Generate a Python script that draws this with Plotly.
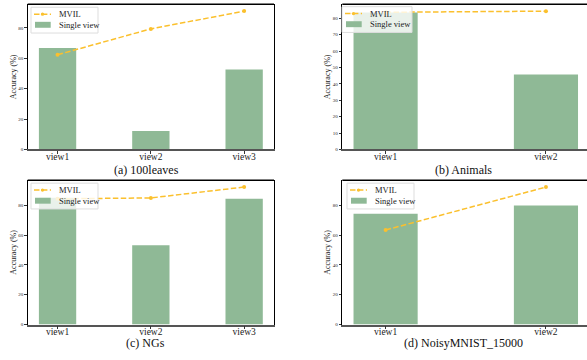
import plotly.graph_objects as go

FONT = "Liberation Serif"
BAR_COLOR = "#8FB996"
LINE_COLOR = "#FBC02D"

# ---- data ----
views_a = ["view1", "view2", "view3"]
single_a = [66.7, 12.2, 52.6]
mvil_a = [62.3, 79.3, 91.0]

views_b = ["view1", "view2"]
single_b = [83.5, 45.7]
mvil_b = [83.7, 84.4]

views_c = ["view1", "view2", "view3"]
single_c = [85.1, 53.1, 84.4]
mvil_c = [84.3, 84.9, 92.2]

views_d = ["view1", "view2"]
single_d = [74.3, 79.8]
mvil_d = [63.4, 92.2]

titles = ["(a) 100leaves", "(b) Animals", "(c) NGs", "(d) NoisyMNIST_15000"]
legend_names = ["MVIL", "Single view"]

W, H = 587, 360
DASH = "5.5px,2.4px"
fig = go.Figure()

panels = [
    dict(views=views_a, single=single_a, mvil=mvil_a, px=(27.7, 274.0), py=(4.3, 150.7),
         xr=[-0.32, 2.32], yr=[0, 95.5], dt=20, right=True, leg=(31, 7.3), lw=67, tx=146.7, ty=170.7),
    dict(views=views_b, single=single_b, mvil=mvil_b, px=(342.3, 587.0), py=(4.3, 150.7),
         xr=[-0.27, 1.256], yr=[0, 88.6], dt=10, right=False, leg=(342, 6.7), lw=70, tx=463.7, ty=170.7),
    dict(views=views_c, single=single_c, mvil=mvil_c, px=(27.7, 274.0), py=(181.7, 327.3),
         xr=[-0.32, 2.32], yr=[0, 96.8], dt=20, right=True, leg=(31, 184.7), lw=67, tx=145.7, ty=345.7),
    dict(views=views_d, single=single_d, mvil=mvil_d, px=(342.3, 587.0), py=(181.7, 327.3),
         xr=[-0.27, 1.256], yr=[0, 96.8], dt=20, right=False, leg=(347, 184.7), lw=67, tx=463.7, ty=345.7),
]


def px2x(v):
    return v / W


def px2y(v):
    return 1 - v / H


layout = {}
shapes = []
annotations = []
for i, p in enumerate(panels):
    n = "" if i == 0 else str(i + 1)
    xa, ya = "x" + n, "y" + n
    xs = list(range(len(p["views"])))
    fig.add_trace(go.Bar(
        x=xs, y=p["single"], name=legend_names[1], width=0.4, showlegend=False,
        marker=dict(color=BAR_COLOR, line=dict(width=0)), xaxis=xa, yaxis=ya))
    fig.add_trace(go.Scatter(
        x=xs, y=p["mvil"], mode="lines+markers", name=legend_names[0], showlegend=False,
        line=dict(color=LINE_COLOR, width=1.5, dash=DASH),
        marker=dict(color=LINE_COLOR, size=4), xaxis=xa, yaxis=ya))

    x0, x1 = px2x(p["px"][0]), px2x(p["px"][1])
    y0, y1 = px2y(p["py"][1]), px2y(p["py"][0])
    layout["xaxis" + n] = dict(
        domain=[x0, x1], range=p["xr"], anchor=ya, tickmode="array", tickvals=xs,
        ticktext=p["views"], ticks="outside", ticklen=3, tickcolor="#333",
        ticklabelstandoff=-6,
        showline=True, linecolor="#555", linewidth=1.5, showgrid=False, zeroline=False,
        tickfont=dict(family=FONT, size=9.5, color="#222"), fixedrange=True)
    layout["yaxis" + n] = dict(
        domain=[y0, y1], range=p["yr"], anchor=xa, dtick=p["dt"], tick0=0,
        ticks="outside", ticklen=2.5, tickcolor="#333", showline=True, linecolor="black",
        linewidth=1, mirror=p["right"], showgrid=False, zeroline=False,
        tickfont=dict(family=FONT, size=5, color="#222"),
        title=dict(text="Accuracy (%)", font=dict(family=FONT, size=8, color="#222"), standoff=0),
        fixedrange=True)
    # top spine
    shapes.append(dict(type="line", xref="paper", yref="paper", x0=x0, x1=x1, y0=y1, y1=y1,
                       line=dict(color="black", width=1.5), layer="above"))

    # legend box (matplotlib-like)
    lx, ly = p["leg"]
    lw = p["lw"]
    shapes.append(dict(type="rect", xref="paper", yref="paper",
                       x0=px2x(lx), x1=px2x(lx + lw), y0=px2y(ly + 26), y1=px2y(ly),
                       fillcolor="rgba(255,255,255,0.8)", line=dict(color="#dddddd", width=1),
                       layer="above"))
    shapes.append(dict(type="line", xref="paper", yref="paper",
                       x0=px2x(lx + 3), x1=px2x(lx + 20), y0=px2y(ly + 7), y1=px2y(ly + 7),
                       line=dict(color=LINE_COLOR, width=1.5, dash=DASH), layer="above"))
    shapes.append(dict(type="circle", xref="paper", yref="paper",
                       x0=px2x(lx + 9.8), x1=px2x(lx + 13.2), y0=px2y(ly + 8.7), y1=px2y(ly + 5.3),
                       fillcolor=LINE_COLOR, line=dict(color=LINE_COLOR, width=0), layer="above"))
    shapes.append(dict(type="rect", xref="paper", yref="paper",
                       x0=px2x(lx + 4), x1=px2x(lx + 19.7), y0=px2y(ly + 20.7), y1=px2y(ly + 14.7),
                       fillcolor=BAR_COLOR, line=dict(width=0), layer="above"))
    for k, txt in enumerate(legend_names):
        annotations.append(dict(text=txt, x=px2x(lx + 25.5), y=px2y(ly + 7 + 11 * k),
                                xref="paper", yref="paper", showarrow=False,
                                xanchor="left", yanchor="middle",
                                font=dict(family=FONT, size=8.5, color="#222")))

    annotations.append(dict(text=titles[i], x=px2x(p["tx"]), y=px2y(p["ty"] + 0.5), xref="paper",
                            yref="paper", showarrow=False, xanchor="center", yanchor="middle",
                            font=dict(family=FONT, size=12, color="#111")))

fig.update_layout(
    width=W, height=H, margin=dict(l=0, r=0, t=0, b=0),
    paper_bgcolor="white", plot_bgcolor="white", barmode="overlay", showlegend=False,
    shapes=shapes, annotations=annotations, **layout)

fig.write_html("out.html", config={"displayModeBar": False})
